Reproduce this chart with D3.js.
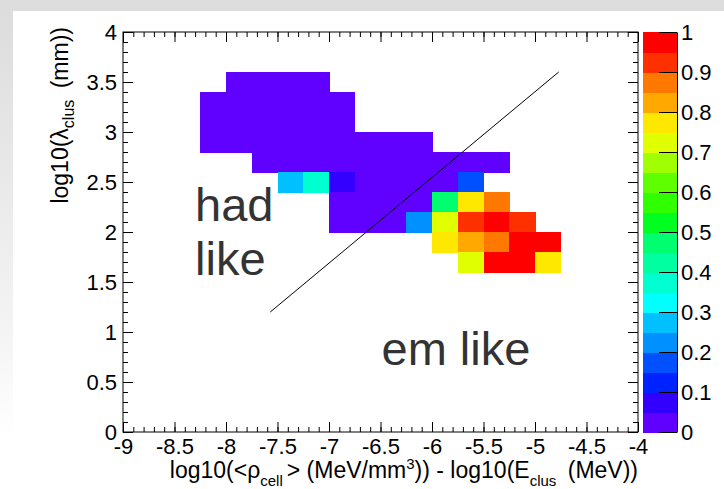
<!DOCTYPE html>
<html>
<head>
<meta charset="utf-8">
<script src="https://cdn.jsdelivr.net/npm/d3@7"></script>
<style>
  html, body { margin: 0; padding: 0; }
  body { width: 724px; height: 489px; overflow: hidden;
         background: linear-gradient(to bottom, #dcdcdc 0px, #f4f4f4 330px, #ffffff 440px); }
  svg { display: block; }
  text { font-family: "Liberation Sans", Arial, sans-serif; }
</style>
</head>
<body>
<div id="chart"></div>
<script>
// bin left edges (x) and bin bottom edges (y)
const xBins = [-8.25, -8.0, -7.75, -7.5, -7.25, -7.0, -6.75, -6.5, -6.25, -6.0, -5.75, -5.5, -5.25, -5.0];
const yBins = [3.4, 3.2, 3.0, 2.8, 2.6, 2.4, 2.2, 2.0, 1.8, 1.6];
const binW = 0.25;
const binH = 0.2;

// cell content per row (null = empty bin), same order as yBins
const row34 = [null, .02, .02, .02, .02, null, null, null, null, null, null, null, null, null];
const row32 = [.02, .02, .02, .02, .02, .02, null, null, null, null, null, null, null, null];
const row30 = [.02, .02, .02, .02, .02, .02, null, null, null, null, null, null, null, null];
const row28 = [.02, .02, .02, .02, .02, .02, .02, .02, .02, null, null, null, null, null];
const row26 = [null, null, .02, .02, .02, .02, .02, .02, .02, .02, .02, .02, null, null];
const row24 = [null, null, null, .27, .37, .07, .02, .02, .02, .02, .17, null, null, null];
const row22 = [null, null, null, null, null, .02, .02, .02, .02, .47, .77, .87, null, null];
const row20 = [null, null, null, null, null, .02, .02, .02, .22, .72, .92, .97, .92, null];
const row18 = [null, null, null, null, null, null, null, null, null, .77, .82, .87, .97, .97];
const row16 = [null, null, null, null, null, null, null, null, null, null, .72, .97, .97, .77];

// separation line
const lineX = [-7.57, -4.77];
const lineY = [1.2, 3.6];

const xTicks = [-9, -8.5, -8, -7.5, -7, -6.5, -6, -5.5, -5, -4.5, -4];
const yTicks = [0, 0.5, 1, 1.5, 2, 2.5, 3, 3.5, 4];
const zTicks = [0, 0.1, 0.2, 0.3, 0.4, 0.5, 0.6, 0.7, 0.8, 0.9, 1];

const palette = ['#6000ff', '#3300ff', '#0022ff', '#0050ff', '#0090ff', '#00c0ff', '#00ffff',
    '#00ffd0', '#00ffa0', '#00ff70', '#00ff20', '#30ff00', '#60ff00', '#a0ff00', '#e0ff00',
    '#ffe800', '#ffa800', '#ff7800', '#ff3000', '#ff0000'];

drawChart('#chart');

function drawChart(id) {
    const pageWidth = 724;
    const pageHeight = 489;
    const left = 123, right = 638, top = 32, bottom = 432;
    const fontSize = 22;

    const svg = d3.select(id).append('svg')
        .attr('width', pageWidth)
        .attr('height', pageHeight);

    // white picture area on the slide
    svg.append('rect')
        .attr('x', 13).attr('y', 11)
        .attr('width', pageWidth - 13).attr('height', pageHeight - 11)
        .attr('fill', '#fff');

    var x = d3.scaleLinear().domain([-9, -4]).range([left, right]);
    var y = d3.scaleLinear().domain([0, 4]).range([bottom, top]);
    var z = d3.scaleQuantize().domain([0, 1]).range(palette);

    // cells
    const rows = [row34, row32, row30, row28, row26, row24, row22, row20, row18, row16];
    const cells = [];
    rows.forEach((r, i) => r.forEach((v, j) => {
        if (v !== null) cells.push({x: xBins[j], y: yBins[i], v: v});
    }));

    svg.append('g')
        .attr('shape-rendering', 'crispEdges')
        .selectAll('rect')
        .data(cells)
        .enter().append('rect')
        .attr('x', d => x(d.x))
        .attr('y', d => y(d.y + binH))
        .attr('width', d => x(d.x + binW) - x(d.x) + 0.5)
        .attr('height', d => y(d.y) - y(d.y + binH) + 0.5)
        .attr('fill', d => z(d.v));

    // line
    svg.append('line')
        .attr('x1', x(lineX[0])).attr('y1', y(lineY[0]))
        .attr('x2', x(lineX[1])).attr('y2', y(lineY[1]))
        .attr('stroke', '#000').attr('stroke-width', 1);

    // axes (ROOT style: ticks inside, on all four sides)
    const xMinor = d3.range(0, 51).map(i => -9 + i * 0.1);
    const yMinor = d3.range(0, 41).map(i => i * 0.1);

    function styleAxis(g) {
        g.select('.domain').remove();
        g.selectAll('line').attr('stroke', '#000');
        g.selectAll('text').attr('font-size', fontSize).attr('fill', '#000')
            .style('font-family', '"Liberation Sans", Arial, sans-serif');
    }

    svg.append('g').attr('transform', 'translate(0,' + bottom + ')')
        .call(d3.axisBottom(x).tickValues(xMinor).tickSizeInner(-5).tickFormat(''))
        .call(styleAxis);
    svg.append('g').attr('transform', 'translate(0,' + bottom + ')')
        .call(d3.axisBottom(x).tickValues(xTicks).tickSizeInner(-10).tickPadding(6).tickFormat(d => d))
        .call(styleAxis);
    svg.append('g').attr('transform', 'translate(0,' + top + ')')
        .call(d3.axisTop(x).tickValues(xMinor).tickSizeInner(-5).tickFormat(''))
        .call(styleAxis);
    svg.append('g').attr('transform', 'translate(0,' + top + ')')
        .call(d3.axisTop(x).tickValues(xTicks).tickSizeInner(-10).tickFormat(''))
        .call(styleAxis);

    svg.append('g').attr('transform', 'translate(' + left + ',0)')
        .call(d3.axisLeft(y).tickValues(yMinor).tickSizeInner(-5).tickFormat(''))
        .call(styleAxis);
    svg.append('g').attr('transform', 'translate(' + left + ',0)')
        .call(d3.axisLeft(y).tickValues(yTicks).tickSizeInner(-10).tickPadding(6).tickFormat(d => d))
        .call(styleAxis);
    svg.append('g').attr('transform', 'translate(' + right + ',0)')
        .call(d3.axisRight(y).tickValues(yMinor).tickSizeInner(-5).tickFormat(''))
        .call(styleAxis);
    svg.append('g').attr('transform', 'translate(' + right + ',0)')
        .call(d3.axisRight(y).tickValues(yTicks).tickSizeInner(-10).tickFormat(''))
        .call(styleAxis);

    // frame
    svg.append('rect')
        .attr('x', left).attr('y', top)
        .attr('width', right - left).attr('height', bottom - top)
        .attr('fill', 'none').attr('stroke', '#000').attr('stroke-width', 1);

    // colour bar
    const barX0 = 643, barX1 = 677;
    var zy = d3.scaleLinear().domain([0, 1]).range([bottom, top]);
    const levels = d3.range(palette.length).map(i => i / palette.length);
    svg.append('g')
        .attr('shape-rendering', 'crispEdges')
        .selectAll('rect')
        .data(levels)
        .enter().append('rect')
        .attr('x', barX0)
        .attr('y', d => zy(d + 1 / palette.length))
        .attr('width', barX1 - barX0)
        .attr('height', d => zy(d) - zy(d + 1 / palette.length) + 0.5)
        .attr('fill', d => z(d + 0.01));

    svg.append('g').attr('transform', 'translate(' + barX1 + ',0)')
        .call(d3.axisRight(zy).tickValues(zTicks).tickSizeInner(-18).tickSizeOuter(0).tickPadding(4).tickFormat(d => d))
        .call(g => g.select('.domain').attr('stroke', '#000'))
        .call(g => g.selectAll('line').attr('stroke', '#000'))
        .call(g => g.selectAll('text').attr('font-size', fontSize).attr('fill', '#000'));

    // annotations
    const note = svg.append('g').attr('fill', '#333').attr('font-size', 47);
    note.append('text').attr('x', x(-8.30)).attr('y', y(2.11)).text('had');
    note.append('text').attr('x', x(-8.30)).attr('y', y(1.57)).text('like');
    note.append('text').attr('x', x(-6.49)).attr('y', y(0.67)).text('em like');

    // x title
    const xt = svg.append('text')
        .attr('x', right).attr('y', 478)
        .attr('text-anchor', 'end')
        .attr('font-size', 23).attr('fill', '#000');
    xt.append('tspan').text('log10(<ρ');
    xt.append('tspan').attr('dy', 8).attr('font-size', 15).text('cell');
    xt.append('tspan').attr('dy', -8).attr('dx', 4).text('> (MeV/mm');
    xt.append('tspan').attr('dy', -9).attr('font-size', 15).text('3');
    xt.append('tspan').attr('dy', 9).text(')) - log10(E');
    xt.append('tspan').attr('dy', 8).attr('font-size', 15).text('clus');
    xt.append('tspan').attr('dy', -8).attr('dx', 5).text(' (MeV))');

    // y title
    const yt = svg.append('text')
        .attr('transform', 'translate(68,27) rotate(-90)')
        .attr('text-anchor', 'end')
        .attr('font-size', 23).attr('fill', '#000');
    yt.append('tspan').text('log10(λ');
    yt.append('tspan').attr('dy', 6).attr('font-size', 16).text('clus');
    yt.append('tspan').attr('dy', -6).attr('dx', 5).text(' (mm))');
}
</script>
</body>
</html>
